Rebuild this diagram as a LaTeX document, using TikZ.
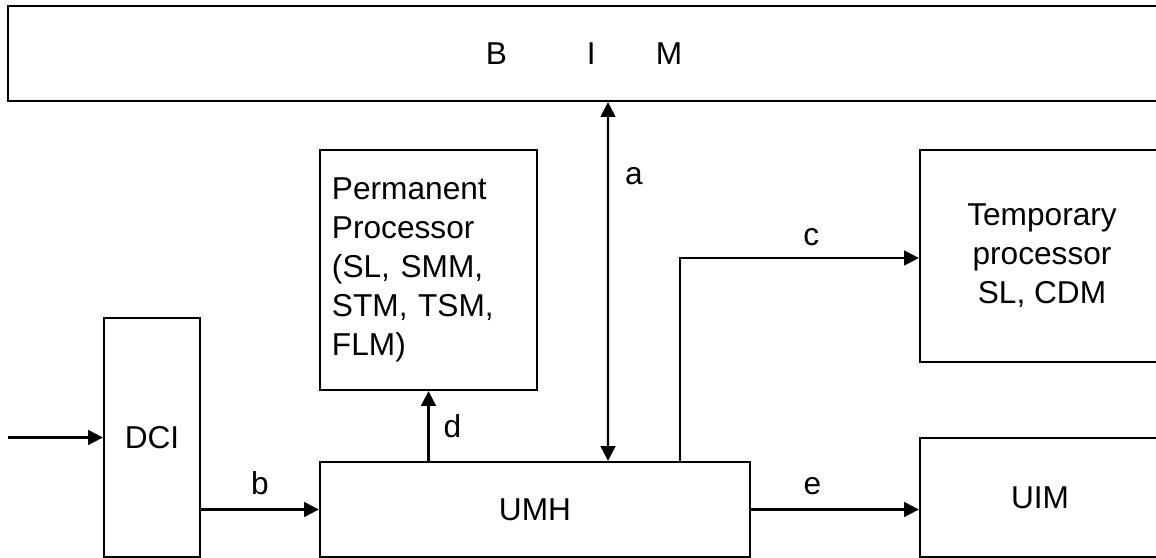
\documentclass[tikz,border=0pt]{standalone}
\usepackage{fontspec}
\setmainfont{Liberation Sans}
\usetikzlibrary{arrows.meta, positioning}

\begin{document}
\begin{tikzpicture}[
  x=0.025cm, y=-0.025cm,
  font=\fontsize{22.5}{27.7}\selectfont,
  block/.style={draw, line width=1.6pt, inner sep=0pt, align=center},
  link/.style={draw, line width=1.6pt, -{Triangle[length=0.37cm, width=0.37cm]}},
  biLink/.style={link, {Triangle[length=0.37cm, width=0.37cm]}-{Triangle[length=0.37cm, width=0.37cm]}},
  tag/.style={inner sep=0pt}
]
\clip (0,0) rectangle (1156,558);

\node[block, minimum width=28.8cm, minimum height=2.375cm] (bim) at (584,53.5)
  {B\hspace{2.0cm}I\hspace{1.5cm}M};

\node[block, minimum width=5.425cm, minimum height=6cm, text width=4.825cm, align=left]
  (perm) at (428.5,270)
  {Permanent\\ Processor\\ (SL, SMM,\\ STM, TSM,\\ FLM)};

\node[block, minimum width=6.1cm, minimum height=5.3cm] (tmp) at (1042,256)
  {Temporary\\ processor\\ SL, CDM};

\node[block, minimum width=2.4cm, minimum height=5.975cm] (dci) at (152,437.5) {DCI};

\node[block, minimum width=10.75cm, minimum height=2.375cm] (umh) at (535,509.5) {UMH};

\node[block, minimum width=6cm, minimum height=2.975cm] (uim) at (1040,497.5) {UIM};

\coordinate (src) at (8,437.5);

% connectors
\draw[link] (src) -- (dci.west);

\draw[link] (dci.east |- umh.west) -- (umh.west)
  node[tag, pos=0.5, above=0.35cm] {b};

\draw[biLink] ([xshift=0.6cm]bim.south) -- ([xshift=1.825cm]umh.north)
  node[tag, pos=0.205, right=0.4cm] {a};

\draw[link] (perm.south |- umh.north) -- (perm.south)
  node[tag, pos=0.5, right=0.35cm] {d};

\draw[link] ([xshift=3.625cm]umh.north) |- ([yshift=-0.05cm]tmp.west)
  node[tag, pos=0.775, above=0.28cm] {c};

\draw[link] (umh.east) -- (umh.east -| uim.west)
  node[tag, pos=0.365, above=0.33cm] {e};
\end{tikzpicture}
\end{document}
